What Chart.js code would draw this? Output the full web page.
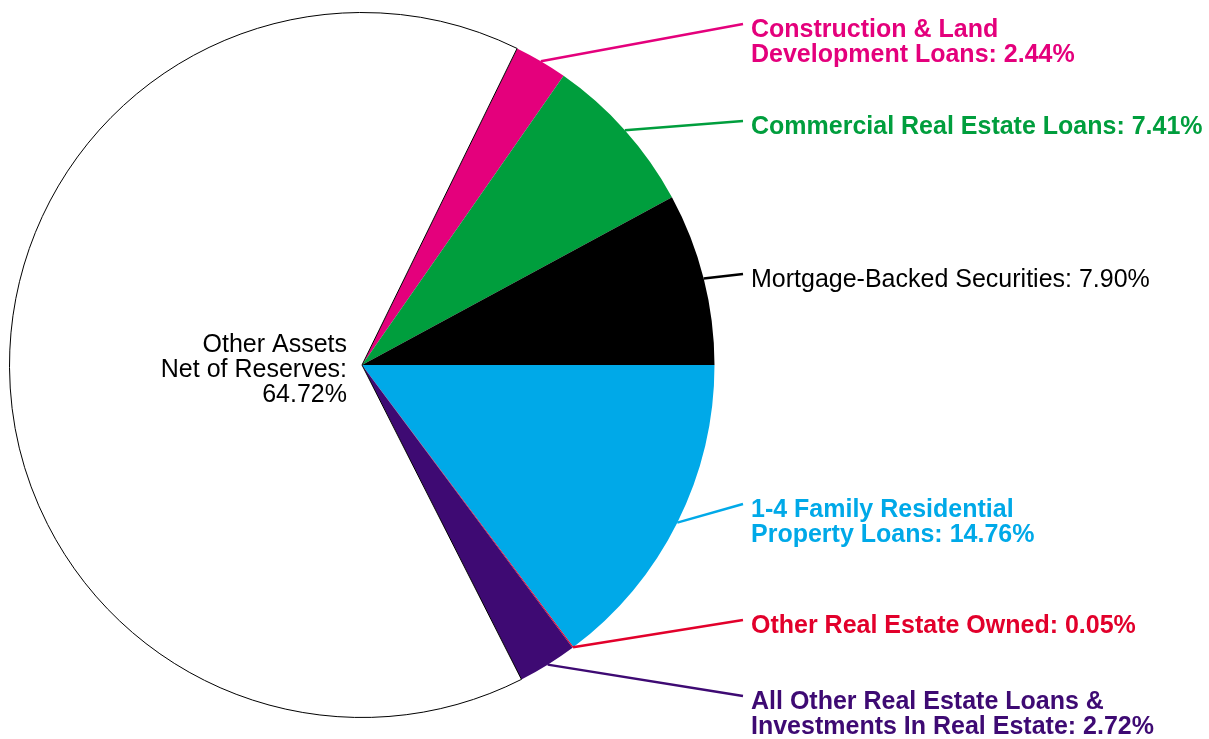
<!DOCTYPE html>
<html><head><meta charset="utf-8">
<script src="https://cdn.jsdelivr.net/npm/chart.js@4"></script>
<style>html,body{margin:0;padding:0;background:#fff}#wrap{width:1209px;height:739px}</style>
</head><body><div id="wrap"><canvas id="c" width="1209" height="739"></canvas></div>
<script>
const categories = ["Construction & Land Development Loans","Commercial Real Estate Loans","Mortgage-Backed Securities","1-4 Family Residential Property Loans","Other Real Estate Owned","All Other Real Estate Loans & Investments In Real Estate","Other Assets Net of Reserves"];
const values = [2.44, 7.41, 7.90, 14.76, 0.05, 2.72, 64.72];
const labelLines = [
  ["Construction & Land","Development Loans: 2.44%"],
  ["Commercial Real Estate Loans: 7.41%"],
  ["Mortgage-Backed Securities: 7.90%"],
  ["1-4 Family Residential","Property Loans: 14.76%"],
  ["Other Real Estate Owned: 0.05%"],
  ["All Other Real Estate Loans &","Investments In Real Estate: 2.72%"],
  ["Other Assets","Net of Reserves:","64.72%"]
];
const colors = ["#E4007C","#009E3D","#000000","#00A9E8","#E2002B","#3E0A73","#FFFFFF"];

// layout for outside labels (first-line baseline y), not data
const labelBase = [37, 134, 287, 517, 633, 709];
const labelBold = [true, true, false, true, true, true];

const labelPlugin = {
  id: 'labels',
  afterDatasetsDraw(chart) {
    const ctx = chart.ctx;
    const meta = chart.getDatasetMeta(0);
    ctx.save();
    ctx.textBaseline = 'alphabetic';
    meta.data.forEach((arc, i) => {
      const lines = labelLines[i];
      if (i === 6) {
        ctx.fillStyle = '#000';
        ctx.font = '25px "Liberation Sans", Arial, sans-serif';
        ctx.textAlign = 'right';
        lines.forEach((t, k) => ctx.fillText(t, 347, 352 + k * 25));
        return;
      }
      const mid = (arc.startAngle + arc.endAngle) / 2;
      const r = arc.outerRadius;
      const x0 = arc.x + Math.cos(mid) * r;
      const y0 = arc.y + Math.sin(mid) * r;
      const col = colors[i];
      ctx.strokeStyle = col;
      ctx.lineWidth = 2.5;
      ctx.beginPath();
      ctx.moveTo(x0, y0);
      ctx.lineTo(743, labelBase[i] - 13);
      ctx.stroke();
      ctx.fillStyle = col;
      ctx.font = labelBold[i] ? 'bold 25px "Liberation Sans", Arial, sans-serif' : '25px "Liberation Sans", Arial, sans-serif';
      ctx.textAlign = 'left';
      lines.forEach((t, k) => ctx.fillText(t, 751, labelBase[i] + k * 25));
    });
    ctx.restore();
  }
};

new Chart(document.getElementById('c'), {
  type: 'pie',
  data: {
    labels: categories,
    datasets: [{
      data: values,
      backgroundColor: colors,
      borderColor: ["#000","#000","#000","#000","#000","#000","#000"],
      borderWidth: [0,0,0,0,0,0,1]
    }]
  },
  options: {
    responsive: false,
    animation: false,
    rotation: 26.1,
    layout: { padding: { left: 9, right: 494, top: 12, bottom: 21 } },
    plugins: { legend: { display: false }, tooltip: { enabled: false } }
  },
  plugins: [labelPlugin]
});
</script>
</body></html>
